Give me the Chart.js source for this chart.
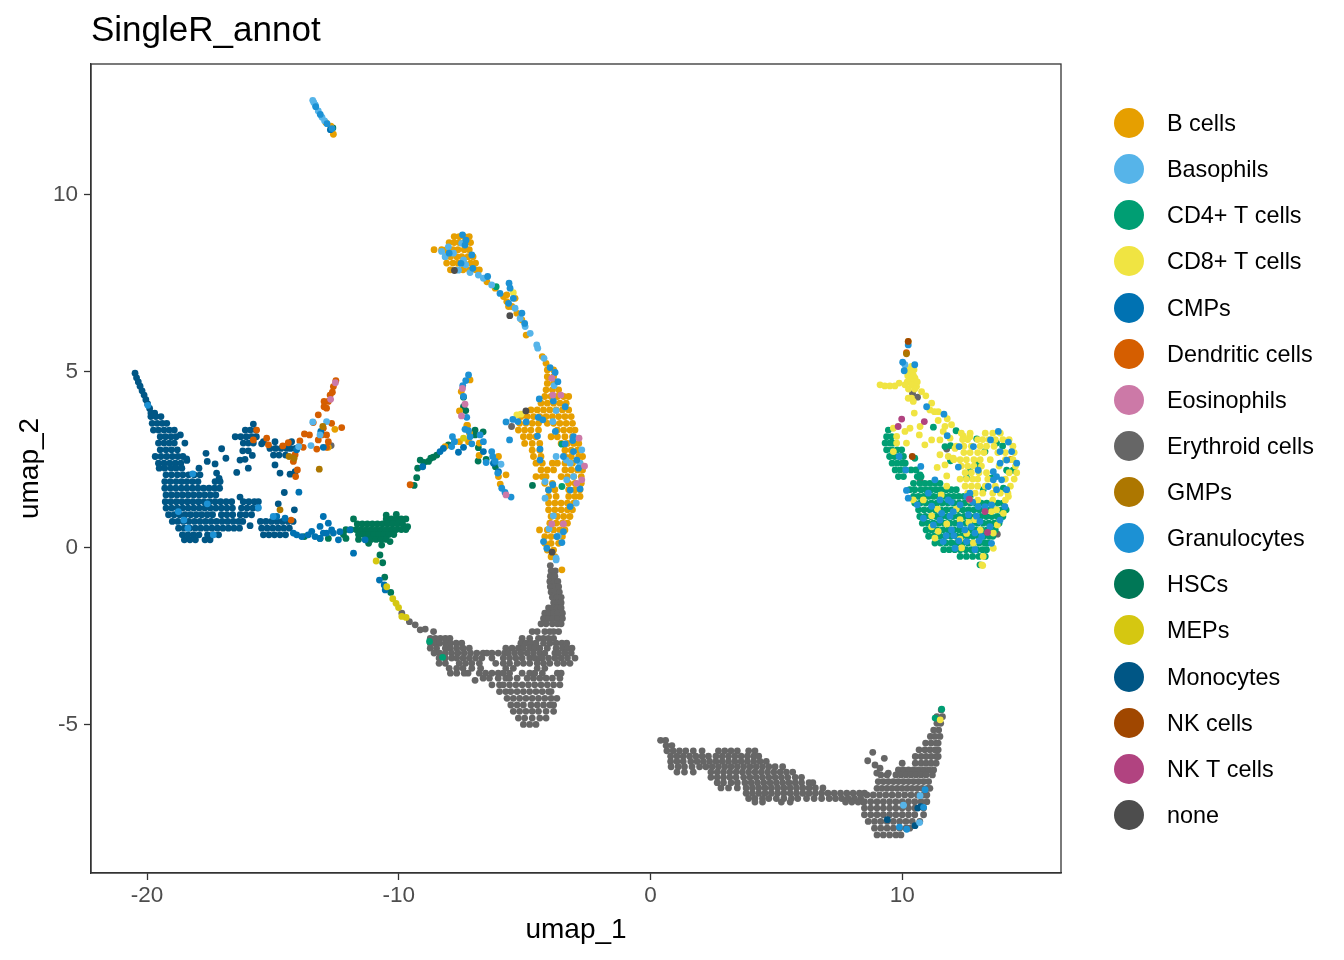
<!DOCTYPE html>
<html>
<head>
<meta charset="utf-8">
<title>SingleR_annot</title>
<script src="https://cdn.jsdelivr.net/npm/chart.js@4"></script>
<style>
	html, body { margin: 0; background: #fff; }
	#wrap { position: relative; width: 1344px; height: 960px; overflow: hidden; }
	canvas { display: block; }
	#legend { position: absolute; left: 0; top: 0; font: 23.4px "Liberation Sans", sans-serif; font-kerning: none; color: #000; }
	#legend div { position: absolute; left: 1167px; white-space: nowrap; line-height: 30px; height: 30px; }
	#legend span { position: absolute; left: -53px; top: 0; width: 30px; height: 30px; border-radius: 50%; }
</style>
</head>
<body>
<div id="wrap">
	<canvas id="umap" width="1344" height="960"></canvas>
	<div id="legend"></div>
</div>
<script>

const titleText = 'SingleR_annot';
const xTitle = 'umap_1';
const yTitle = 'umap_2';
const xTicks = [ -20, -10, 0, 10 ];
const yTicks = [ -5, 0, 5, 10 ];

const categories = [ 'B cells', 'Basophils', 'CD4+ T cells', 'CD8+ T cells', 'CMPs', 'Dendritic cells', 'Eosinophils', 'Erythroid cells', 'GMPs', 'Granulocytes', 'HSCs', 'MEPs', 'Monocytes', 'NK cells', 'NK T cells', 'none' ];
const colors = [ '#E69F00', '#56B4E9', '#009E73', '#F0E442', '#0072B2', '#D55E00', '#CC79A7', '#666666', '#AD7700', '#1C91D4', '#007756', '#D5C711', '#005685', '#A04700', '#B14380', '#4D4D4D' ];
// lower is painted later
const layers = [ 13, 8, 12, 11, 9, 10, 6, 16, 3, 7, 14, 5, 15, 2, 1, 4 ];

// every row below is [ umap_2, umap_1, umap_1, ... ]
const bCells = [
	[8.82,-7.8,-7.6,-7.4,-7.2],[8.65,-8,-7.8,-7.6,-7.4,-7.15],[8.45,-8.6,-8.3,-8.1,-7.85,-7.65,-7.4,-7.2],
	[8.25,-8.15,-7.95,-7.7,-7.5,-7.25,-7.05],[8.07,-8.1,-7.85,-7.65,-7.4,-7.15,-6.95],[7.88,-7.95,-7.7,-7.45,-7.2,-6.95,-6.8],
	[7.54,-6.5],[7.36,-6.17],[7.17,-5.71],[7.12,-5.84],[7.07,-5.38],[6.98,-5.71],[6.84,-5.51,-5.64],[6.65,-5.31],[6.46,-5.11],[6.03,-4.94],
	[5.42,-4.3],[5.23,-4.15],[5.04,-4.1,-3.85],[4.85,-4.1,-3.85],[4.66,-4.1,-3.85],[4.48,-4.15,-3.9,-3.65],[4.29,-4.2,-3.95,-3.7,-3.45,-3.25],
	[4.1,-4.35,-4.1,-3.85,-3.6,-3.35],[3.91,-4.75,-4.5,-4.25,-4,-3.75,-3.5,-3.25],[3.72,-5.15,-4.9,-4.65,-4.4,-4.15,-3.9,-3.65,-3.4,-3.15],
	[3.53,-5.2,-4.95,-4.7,-4.45,-4.1,-3.85,-3.6,-3.35,-3.1],[3.34,-5.25,-5,-4.75,-4.45,-3.7,-3.45,-3.2,-3],[3.15,-5.05,-4.8,-4.55,-3.95,-3.7,-3.4,-3.1],
	[2.96,-5,-4.7,-4.4,-3.55,-3.3,-3.05,-2.85],[2.77,-4.7,-4.4,-3.4,-3.15,-2.9],[2.59,-4.65,-4.35,-3.4,-3.15,-2.85,-2.7],[2.4,-4.55,-4.3,-3.9,-3.7,-3.4,-3.1,-2.8],
	[2.21,-4.35,-4.1,-3.85,-3.4,-3.15,-2.9,-2.7],[2.02,-4.55,-4.3,-4.15,-3.55,-3.3,-3.05,-2.75],[1.83,-4.2,-3.9,-3.25,-3,-2.75],[1.65,-4.05,-3.8,-3.25,-3,-2.8],
	[1.46,-4.05,-3.75,-3.25,-3,-2.8],[1.27,-4.05,-3.8,-3.55,-3.3,-3.05],[1.08,-4.05,-3.8,-3.55,-3.3,-3.1],[0.89,-3.95,-3.7,-3.45,-3.2],[0.7,-4,-3.75,-3.5,-3.3],
	[0.51,-4.41,-4.1,-3.85,-3.6,-3.4],[0.32,-4.2,-3.95,-3.7,-3.5],[0.13,-4.2,-3.95,-3.65],[-0.06,-4.1,-3.85],[-0.25,-3.95,-3.8],[-0.62,-3.52],
	[4.76,-7.17],[4.43,-7.52],[3.88,-7.59],[3.47,-7.3,-7.27],[3.25,-7.19],[3.01,-7.59,-7.23],[2.97,-6.8],[2.87,-8.16],[2.62,-6.81],[2.59,-6.04],[2.07,-5.74],[2.02,-6.04],[1.81,-5.97],
	[3.36,-12.54],[2.85,-12.8],[11.72,-12.6],[11.95,-12.7],[12.05,-12.9],[2.51,14.31]
];
const basophils = [
	[8.4,-8.3],[8.53,-8.03],[8.35,-7.83],[8.63,-7.5],[8.16,-7.43],[8.02,-7.34],[7.87,-7.63],[8.25,-8.16],[7.8,-7.17],
	[7.73,-6.84],[7.64,-6.64],[7.45,-6.31],[6.79,-5.38],[6.5,-5.18],[6.27,-4.98],[6.08,-4.78],[5.75,-4.52],[5.66,-4.48],[5.37,-4.23],
	[3.89,-3.75],[3.58,-3.88],[4.6,-3.83],[2.49,-3.35],[2.4,-3.19,-2.8],[1.93,-3.33],[2.02,-3.06],[2.78,-2.73],[2.59,-3.75],[1.88,-4.19],[1.41,-4.19],[1.27,-2.95],[0.91,-3.86],[0.54,-4.03],[0.34,-3.66],[-0.29,-3.75],[-0.34,-3.75],
	[2.37,-5.94],[3.01,-7.79],[3.57,-13.42],[3.58,-12.87],[3.2,-13.13],[2.9,-13.49],[2.87,-13.98],
	[12.68,-13.42],[12.62,-13.38],[12.55,-13.32],[12.38,-13.2],[12.2,-13.05],[12.1,-12.95],[5.19,10.11],
	[-7.02,10.71],[-7.29,10.05],[-7.78,10.69]
];
const cd4T = [
	[3.34,9.45],[3.15,9.38,9.58],[2.97,9.32,9.5,9.65],[2.78,9.38,9.58,9.8,9.98],[2.59,9.5,9.7,9.9,10.05],[2.4,9.6,9.8,10,10.12],[2.21,9.72,9.92,10.12,10.35,10.55],[2.02,9.85,10.05,10.6,10.75],
	[1.83,10.45,10.7,10.9,11.1,11.3,11.5],[1.65,10.3,10.5,10.75,10.95,11.15,11.35,11.55,11.75,11.95,12.15],[1.46,10.45,10.65,10.85,11.05,11.25,11.45,11.65,11.85,12.05,12.25,12.45,12.7],
	[1.27,10.5,10.72,10.94,11.16,11.38,11.6,11.82,12.04,12.26,12.48,12.7,12.92,13.14,13.36,13.58,13.8,14],
	[1.08,10.65,10.87,11.09,11.31,11.53,11.75,11.97,12.19,12.41,12.63,12.85,13.07,13.29,13.51,13.73,13.95,14.13],
	[0.89,10.7,10.92,11.14,11.36,11.58,11.8,12.02,12.24,12.46,12.68,12.9,13.12,13.34,13.56,13.78,14],
	[0.7,10.8,11.02,11.24,11.46,11.68,11.9,12.12,12.34,12.56,12.78,13,13.22,13.44,13.66,13.85],
	[0.51,10.95,11.17,11.39,11.61,11.83,12.05,12.27,12.49,12.71,12.93,13.15,13.37,13.59,13.7],
	[0.33,11.05,11.27,11.49,11.71,11.93,12.15,12.37,12.59,12.81,13.03,13.25,13.47,13.6],
	[0.14,11.3,11.52,11.74,11.96,12.18,12.4,12.62,12.84,13.06,13.28,13.4],
	[-0.05,11.65,11.87,12.09,12.31,12.53,12.75,12.97,13.19,13.35],[-0.24,12.3,12.55,12.8,13.05,13.3],[-0.48,13.09],
	[3.09,12.96],[2.73,13.29],[2.97,13.75],[2.89,13.99],[2.38,13.02],[2.47,11.92],[2.2,14.15,14.41],[2.16,12.69],[1.98,13.55,12.56],[1.65,13.22],[1.69,14.02],[2.9,11.92],[2.87,11.7],[3.42,11.24],[3.32,12.14],[2.07,10.71],[2.54,10.5],
	[7.4,-6.13],[2.94,-3.52],[1.74,-3.52],[-2.65,-8.78],[-3.1,-8.26],[-4.57,11.57],[-4.82,11.31]
];
const cd8T = [
	[5.85,10.24],[5.14,10.37],[5.05,10.27,10.47],[4.95,10.37],[4.88,10.22,10.45],[4.76,10.31],[4.81,10.51],[4.7,10.2,10.45,10.6],[4.62,10.37,9.12,10.11],[4.59,9.31,9.51,9.71],[4.67,9.88],[4.57,10.57],[4.5,10.25,10.5],[4.43,10.77],[4.31,10.94],[4.24,10.37,10.24],[4.15,10.44],[4.1,11.17],[3.91,11.1],[3.86,11.43,11.28],
	[3.82,10.48],[3.61,11.43],[3.66,11.79],[3.39,10.31,9.65],[3.3,10.11,11.63],[3.44,10.71,11.7],[3.2,10.68],[3.49,11.96],[3.06,11.17,11.5],[2.92,10.9],[3.11,11.9],[2.97,10.17,9.78],[3.16,9.78],[2.73,9.65],[2.82,12.1],[2.64,11.5],[2.59,11.83],[2.54,12.03],[2.35,11.7],[2.28,11.39],[2.04,11.77],[3.17,12.43],[3.15,12.69],
	[3.25,12.35,12.7,13.3,13.6,13.9],[3.07,12.4,12.6,13,13.2,13.45,13.7,14,14.25],[2.88,12.15,12.45,12.75,13.1,13.35,13.65,14.4],[2.7,12.45,12.7,13,13.25,13.8,14.1,14.45],[2.5,12.05,12.3,12.55,12.85,13.1,13.5,14.1,14.4],
	[2.32,12.35,12.6,12.85,13.15,13.85,14.5],[2.13,12.5,12.75,13.05,13.35,14.25,14.55],[1.95,12.3,12.55,12.8,13,13.4,14.1,14.45],[1.75,11.77,12.5,12.75,13,13.3,13.7,14.3],[1.55,12.6,12.9,13.2,13.6,13.9,14.2],[1.35,12.7,13,13.6,14.1],
	[0.91,11.17],[0.68,11.77],[0.25,12.3],[0,12.36],[-0.01,13.62],[-0.24,13.22],[-0.48,13.16],[0.65,13.78],[0.98,14.02],[1.46,14.22],[0.42,13.62],[0.6,11.17],[0.47,11.43],[0.8,12.3,12.89],[1.36,10.84,10.44],[1.08,13.75],[1.03,13.55],[0.41,12.56],[0.28,11.3],[0.14,12.83],[-0.5,13.2],
	[1.1,11.4,12.15],[0.72,12.65],[1.5,11.55],[0.5,13.1],
	[7.23,-5.45],[3.77,-5.31],[3.79,-5.15],[-4.87,11.51]
];
const cmps = [
	[0.42,-14.19,-13,-12.87,-12.6],[0.32,-13.86,-13.33],[0.37,-14.06,-13.6],[0.61,-13.13],[0.89,-13,-14.85],[0.7,-12.8],[0.51,-12.67,-11.94],[0.23,-12.4,-11.34],[-0.15,-11.8],[0.47,-13.46],[0.84,-14.52],[0.27,-13.13],[0.46,-12.34],[2.85,-13],[1.58,-13.97],[2.78,-14.06],[3.3,-13.1],
	[2.71,-7.63],[2.73,-8.36,-6.64],[2.85,-7.43],[2.3,-9.05],[2.82,-8.23],[2.16,-6.04],[2.4,-6.24],
	[-0.91,-10.77],[-1.05,-10.58],[-1.19,-10.54],[11.85,-12.72]
];
const dendritic = [
	[4.74,-12.5],[4.57,-12.6],[4.41,-12.64],[4.33,-12.73],[4.15,-12.8,-12.97],[4,-12.97],[3.96,-12.87],[3.77,-13.2],[3.55,-13.4],[3.39,-13],[3.53,-12.67],[3.41,-12.27],[3.23,-13.75],[3.2,-13.55,-12.87,-13.06],[3.06,-13.2,-15.78],[3.01,-12.8],[3.03,-13.93],[2.85,-13.8,-12.87],[2.8,-13.26],[2.64,-14.12],[2.45,-14.19],[2.21,-14.03],[2.02,-14.1],
	[3.11,-15.25],[2.92,-15.18],[3.34,-15.65],[2.89,-14.61],[2.98,-14.39],[1.79,-9.55],[0.79,-14.28],[5.53,10.17]
];
const eosinophils = [
	[4.68,-12.52],[4.21,-12.71],[4.81,-3.92],[4.33,-3.56,-3.88],[3.11,-2.84],[2.32,-2.62],[1.83,-2.93],[0.68,-3.92,-3.46],[1.93,-2.73],[4.07,-7.37],[3.74,-7.51],[4.52,-7.47],[1.5,-5.74]
];
const erythroid = [
	[-0.5,-3.98],[-0.65,-3.95,-3.78],[-0.8,-3.98,-3.8],[-0.95,-4,-3.82,-3.68],[-1.1,-3.98,-3.8,-3.65],[-1.25,-3.95,-3.78,-3.62],[-1.4,-3.9,-3.72,-3.55],[-1.55,-3.85,-3.68,-3.55],[-1.7,-4.05,-3.88,-3.7,-3.55],[-1.85,-9.88,-4.2,-4.02,-3.85,-3.68,-3.5],[-2,-4.25,-4.05,-3.88,-3.7,-3.5],[-2.15,-4.35,-4.15,-3.9,-3.7,-3.55],
	[-2.09,-9.58],[-2.18,-9.35],[-2.32,-9.15],[-2.3,-8.95],
	[-2.37,-8.62,-4.7,-4.5,-4.2,-4,-3.85,-3.65],[-2.56,-8.75,-8.55,-8.35,-8.15,-7.97,-5.1,-4.8,-4.45,-4.25,-4.05,-3.85],[-2.7,-8.75,-8.55,-8.38,-8.15,-7.95,-7.72,-7.5,-5.15,-4.95,-4.75,-4.55,-4.25,-4,-3.75,-3.52,-3.33],
	[-2.84,-8.75,-8.5,-8.15,-7.95,-7.7,-7.45,-7.2,-5.75,-5.5,-5.25,-5.05,-4.8,-4.6,-4.4,-4.1,-3.75,-3.5,-3.3,-3.12],
	[-2.98,-8.6,-8.38,-8.15,-7.9,-7.65,-7.4,-7.15,-6.9,-6.65,-6.5,-6.3,-6.05,-5.8,-5.65,-5.4,-5.15,-4.9,-4.65,-4.4,-4.2,-3.8,-3.65,-3.4,-3.15],
	[-3.12,-8.4,-8.15,-7.9,-7.7,-7.45,-7.2,-6.95,-6.7,-6.3,-5.85,-5.6,-5.35,-5.1,-4.8,-4.6,-4.4,-4.3,-4.05,-3.8,-3.55,-3.3,-3],
	[-3.27,-8.4,-8.15,-7.6,-7.35,-7.1,-6.8,-6.15,-5.85,-5.6,-5.3,-5.05,-4.8,-4.5,-4.25,-4,-3.7,-3.45,-3.2],
	[-3.41,-8,-7.7,-7.45,-7.1,-6.75,-5.75,-5.45,-4.5,-4.2],[-3.55,-7.95,-7.7,-7.4,-7.25,-6.8,-6.55,-6.3,-6.05,-5.85,-5.6,-5.1,-4.8,-4.6,-4.3,-3.7,-3.55],
	[-3.69,-6.65,-6.4,-6.05,-5.75,-5.6,-5.3,-4.9,-4.65,-4.4,-4.15,-3.9,-3.6],[-3.75,-6.97],[-3.88,-6.3,-6,-5.85,-5.6,-5.35,-5.1,-4.85,-4.6,-4.35,-4.1,-3.85,-3.6],
	[-4.07,-6,-5.75,-5.55,-5.3,-5.05,-4.8,-4.55,-4.3,-4.05,-3.95],[-4.26,-5.7,-5.45,-5.2,-4.95,-4.7,-4.45,-4.2,-3.95,-3.72],[-4.45,-5.55,-5.3,-5.05,-4.75,-4.5,-4.25,-4,-3.85],[-4.63,-5.45,-5.2,-4.95,-4.7,-4.45,-4.15,-3.85],[-4.82,-5.25,-5,-4.7,-4.4,-4.15],[-5,-5.05,-4.8,-4.55],
	[-5.45,0.4,0.6],[-5.6,0.62,0.85],[-5.75,0.65,0.9,1.15,1.4,1.7,2.05,2.7,2.95,3.2,3.45,3.9,4.15],[-5.9,0.8,1.05,1.3,1.55,1.8,2.05,2.3,2.6,2.85,3.1,3.35,3.6,3.85,4.1,4.3],
	[-6.05,0.8,1.05,1.3,1.6,1.85,2.1,2.35,2.6,2.85,3.1,3.35,3.6,3.85,4.1,4.35,4.6],[-6.2,0.82,1.1,1.35,1.65,1.95,2.2,2.45,2.7,2.95,3.2,3.45,3.7,3.95,4.2,4.45,4.7,4.95,5.25],
	[-6.35,1.05,1.35,1.7,2.4,2.65,2.9,3.15,3.4,3.65,3.9,4.15,4.4,4.65,4.9,5.15,5.4,5.65],[-6.5,2.4,2.65,2.9,3.15,3.4,3.7,3.95,4.2,4.45,4.7,4.95,5.2,5.45,5.75,6],
	[-6.65,2.65,2.9,3.2,3.45,3.75,4,4.25,4.5,4.75,5,5.25,5.5,5.75,6,6.3,6.45],[-6.8,2.8,3.1,3.45,3.8,4.05,4.3,4.55,4.8,5.05,5.3,5.55,5.8,6.05,6.3,6.55,6.85],
	[-6.95,3.8,4.05,4.3,4.55,4.8,5.05,5.3,5.55,5.8,6.05,6.3,6.55,6.8,7.05,7.3,7.55,7.8,8.05,8.3,8.5],[-7.1,3.9,4.15,4.45,4.7,5,5.3,5.6,5.85,6.2,6.5,6.8,7.1,7.35,7.6,7.85,8.1,8.35],[-7.2,4.15,4.45,5.2,5.55,7.75,8,8.25,8.45],
	[-4.59,11.55],[-4.78,11.38,11.6],[-4.97,11.38,11.53],[-5.16,11.25,11.45],[-5.34,11.12,11.3,11.5],[-5.53,10.93,11.15,11.35,11.43],[-5.72,10.67,10.9,11.1,11.3,11.43],[-5.91,10.52,10.75,10.95,11.15,11.35,11.43],[-6.1,10,10.52,10.75,10.95,11.15,11.35],
	[-6.29,9.85,10.05,10.25,10.45,10.65,10.85,11.05,11.25],[-6.43,9.15,9.4,9.75,9.95,10.15,10.35,10.55,10.75,10.95,11.2],[-6.62,9.05,9.25,9.45,9.65,9.85,10.05,10.25,10.45,10.65,10.85,11.05],[-6.81,9,9.2,9.4,9.6,9.8,10,10.2,10.4,10.6,10.8,11,11.1],
	[-7,8.6,8.85,9.1,9.35,9.6,9.85,10.1,10.35,10.6,10.85,10.98],[-7.19,8.5,8.75,9,9.25,9.5,9.75,10,10.25,10.5,10.75,10.98],[-7.37,8.5,8.75,9,9.25,9.5,9.75,10,10.25,10.5,10.85],[-7.56,8.5,8.75,9,9.25,9.5,9.75,10,10.25,10.5,10.85],
	[-7.75,8.65,8.9,9.15,9.4,9.65,9.9,10.15,10.4,10.7],[-7.94,8.9,9.15,9.4,9.65,9.9,10.15,10.3],[-8.13,9,9.25,9.5,9.75,9.95],
	[-5.79,8.83],[-5.96,9.29],[-6.03,8.63],[-6.15,8.92],[-6.24,9.12],[-6.38,8.99,9.45],
	[3.44,-5.52],[2.9,-12.69],[4.38,10.41],[4.27,10.61],[2.8,11.77],[1.91,10.71],[0.39,13.78]
];
const gmps = [
	[2.59,-14.36],[2.54,-14.16],[2.23,-13.16],[1.08,-14.72],[3.44,-13.02],[5.5,10.17]
];
const granulocytes = [
	[8.87,-7.47],[8.72,-7.33],[8.35,-8],[8.58,-7.37],[8.3,-7.1],[7.92,-7.06],[8.06,-7.53],[7.69,-6.47],[7.21,-5.98],[7.5,-5.62],[7.36,-5.58],[7.07,-5.45],[6.36,-5],[6.93,-5.64],[6.65,-5.11],
	[4.22,-4.42],[4.16,-3.86],[4.71,-3.68],[5.11,-3.99],[4.97,-3.79],[4,-3.39],[3.64,-5.47],[3.57,-5.74,-4.94],[3.58,-5.27],[3.7,-4.46],[3.63,-4.28],[3.06,-5.6],[3.17,-4.49],[3.3,-3.78],[3.15,-3.06],[3.04,-3.09],[2.95,-3.39],[2.59,-3.46],[2.73,-3.06],[2.49,-2.93,-4.39],[2.26,-2.86],[1.79,-3.88],[1.64,-4.05,-3.19],[1.67,-2.8],[1.17,-3.19],[0.46,-3.46],[0.15,-3.52],[-0.01,-4.12],[0.32,-3.72],[0.18,-4.25],[2.8,-4.39],
	[4.9,-7.23],[4.74,-7.34],[4.6,-7.46],[4.29,-7.43],[3.7,-7.3],[3.36,-7.37],[3.15,-7.17,-7.87],[3.2,-6.77],[3.01,-6.64,-7.79],[2.95,-7.1],[2.87,-7.9],[3.32,-7.23],
	[2.73,-6.31],[2.59,-6.27],[2.45,-6.17],[2.42,-6.53],[2.12,-6.07],[1.69,-5.91],[1.57,-5.78],[1.44,-5.54],
	[4.04,-19.97],[2.1,-18.19],[0.56,-18.38],[1.03,-18.76],[1.25,-17.61],[0.37,-17.37],[0.89,-14.99],[1.14,-15.58],[0.79,-18.54],
	[12.5,-13.3],[12.28,-13.12],[12.02,-12.85],[11.88,-12.65],
	[5.75,10.24],[5.26,10.02],[5.02,10.08],[5.19,10.5],[4,10.97],[3.79,11.66],[3.18,11.79],[2.87,12.26,12.83],[3.3,13.82],[3.06,13.51],[2.73,13.89,14.35],[3,14.22],[2.4,14.55,13.89],[2.49,14.15],[2.16,13.62],[2.02,13.75],[1.93,13.95,13.62,11.3],[1.74,13.42],[1.65,13.75,14.15],[2.2,13.02],[2.29,12.23],[2.31,10.74],[2.21,10.14],[2.59,9.88],[1.63,10.17],[1.41,10.24],[1.22,10.6,12.3,13.55],[1.55,11.04,12.69],[1.46,12.56],[1.36,11.5,11.83],[1.03,12.03],[1.17,13.02,13.29,14.08],[0.79,13.89,11.5],[0.84,10.84],[0.65,11.24,12.3],[0.98,11.57],[0.51,11.96,12.49],[0.42,12.89],[0.6,13.49],[0.13,13.55],[0.18,11.63,12.56],[-0.01,12.1],[-0.05,12.89],[0.94,12.63],[1.18,11.17],[0.75,13.09],[0.32,13.16],
	[0.9,11.9,12.95],[0.35,11.75,12.05],[1.3,11.95,12.8],[0.6,12.75],[0.2,12.25,13.05],
	[-6.85,10.91],[-7.91,9.89],[-7.35,10.85],[-7.97,10.18]
];
const hscs = [
	[0.82,-10.5,-10.3,-10.1,-9.9,-9.72],[0.68,-11.65,-11.45,-11.25,-11.05,-10.85,-10.65,-10.45,-10.25,-10.05,-9.85],[0.6,-9.65],[0.52,-12.1,-11.9,-11.7,-11.5,-11.3,-11.1,-10.9,-10.7,-10.5,-10.3,-10.1,-9.9,-9.72],[0.38,-12.2,-11.6,-11.4,-11.2,-11,-10.8,-10.6,-10.4,-10.2],[0.24,-11.6,-11.3,-11.1,-10.9,-10.7,-10.5],
	[0.82,-11.8],[0.32,-13.75],[0.27,-13.13,-12.8,-12.1],[0.08,-10.68],[0.18,-10.35],[-0.2,-10.75],[0.13,-11.2],[0.95,-10.1],[0.93,-10.5],
	[-0.42,-10.64],[-0.83,-10.56],[-1.26,-10.32],[1.77,-4.69],
	[4.27,-7.43],[3.89,-7.34],[4,-7.43],[3.34,-6.97],[3.29,-6.65],[2.84,-6.84],[2.92,-8.03],[3.2,-6.97],[2.57,-8.63],[2.45,-8.82],[2.49,-9.15],[2.26,-9.25],[1.99,-9.29],[1.77,-9.39],[2.63,-8.49],[2.54,-8.73],[2.42,-9],[2.51,-6.53],[2.46,-6.85],[2.3,-6.16],
	[11.9,-12.62]
];
const meps = [
	[-1.44,-10.24],[-1.57,-10.11],[-1.69,-10.01],[-1.97,-9.71],[-1.1,-10.48],[-1.94,-9.88],[-0.37,-10.9],[3.11,-7.43]
];
const monocytes = [
	[4.95,-20.48],[4.82,-20.42],[4.7,-20.35],[4.58,-20.28],[4.45,-20.2],[4.33,-20.12],[4.2,-20.05],[4.08,-19.98],[3.95,-19.9],[3.82,-19.85,-19.7],
	[3.72,-19.85,-19.65,-19.45],[3.53,-19.8,-19.6,-19.4,-19.22],[3.34,-19.75,-19.55,-19.33,-19.12,-18.92],[3.15,-19.48,-19.27,-19.05,-18.85],[3.2,-18.68],[2.97,-19.55,-19.33,-19.12,-18.92,-18.5],[2.78,-19.48,-19.25,-19.03,-18.8],
	[2.59,-19.68,-19.45,-19.22,-19,-18.78,-18.58],[2.4,-19.55,-19.33,-19.1,-18.88,-18.66],[2.48,-18.42],[2.26,-19.52,-19.3,-19.05,-18.85,-18.62],[2.07,-19.25,-19.03,-18.8,-18.58,-18.35,-18.13,-17.9],[1.88,-19.3,-19.08,-18.85,-18.63,-18.42,-18.2,-17.98,-17.3,-17.1],
	[1.69,-19.3,-19.08,-18.86,-18.64,-18.42,-18.2,-17.98,-17.76,-17.54,-17.32,-17.12],[1.5,-19.25,-19.03,-18.81,-18.59,-18.37,-18.15,-17.93,-17.71,-17.49,-17.27],
	[1.31,-19.28,-19.06,-18.84,-18.62,-18.4,-18.18,-17.96,-17.74,-17.52,-17.3,-17.08,-16.86,-16.64,-16.18,-15.96,-15.74,-15.58],
	[1.13,-19.25,-19.03,-18.81,-18.59,-18.37,-18.15,-17.93,-17.71,-17.49,-17.27,-17.05,-16.83,-16.61,-16.25,-16.03,-15.8,-15.6],
	[0.94,-19.15,-18.93,-18.71,-18.49,-18.27,-18.05,-17.83,-17.61,-17.4,-17.05,-16.83,-16.6,-16.3,-16.08,-15.85],
	[0.75,-19,-18.78,-18.56,-18.34,-18.12,-17.9,-17.68,-17.46,-17.24,-17.02,-16.8,-16.58,-16.36,-16.2,-15.5,-15.28,-15.06,-14.84,-14.62,-14.4,-14.2],
	[0.56,-18.75,-18.53,-18.31,-18.09,-17.87,-17.65,-17.43,-17.21,-16.99,-16.77,-16.55,-16.33,-15.45,-15.23,-15.01,-14.79,-14.57,-14.35],
	[0.37,-18.6,-18.38,-18.16,-17.94,-17.6,-17.38,-17.16,-15.38,-15.16,-14.94,-14.72,-14.5],[0.23,-18.52,-18.3,-18.08,-17.7,-17.5],
	[2.68,-17.66],[2.45,-17.61],[2.81,-17.04],[2.54,-16.87],[2.38,-17.3],[2.12,-17.24,-14.72],[2.26,-17.94,-15.98],[2.14,-16.44],[2.62,-15.82],[2.49,-16.31],[2.51,-16.11],[1.44,-16.31],[1.57,-14.55],[0.63,-15.91],[1.25,-14.79],[1.08,-14.15],[2.35,-14.92],[2.09,-14.32],[2.16,-14.12],[2.52,-18.43],[1.97,-17.14],
	[3.51,-15.78],[3.34,-16.1,-15.9,-15.68],[3.15,-16.5,-16.28,-16.06,-15.84,-15.66],[2.97,-16.18,-15.98,-15.78],[2.75,-16.2,-15.98],
	[3.01,-15.38,-14.92,-14.26],[2.95,-15.45],[2.82,-15.12,-14.9,-14.68,-14.46,-14.3,-14.1],[2.63,-14.98,-14.76,-14.5],
	[-7.33,10.74],[-7.37,10.62],[-7.7,9.41],[-7.87,10.51]
];
const nkCells = [
	[5.85,10.24],[2.59,10.4]
];
const nkT = [
	[3.65,9.98],[3.58,10.88],[3.44,9.84],[0.44,13.39],[1.03,13.29],[1.38,12.67]
];
const none = [
	[6.58,-5.59],[7.86,-7.79],[3.88,-4.95],[-0.12,-3.91]
];

const series = [ bCells, basophils, cd4T, cd8T, cmps, dendritic, eosinophils, erythroid, gmps, granulocytes, hscs, meps, monocytes, nkCells, nkT, none ];

const toPoints = rows => rows.flatMap( r => r.slice( 1 ).map( x => ( { x: x, y: r[0] } ) ) );

const axisFont = size => ( { family: '"Liberation Sans", sans-serif', size: size } );

const panelBorder = {
	id: 'panelBorder',
	afterDraw( chart ) {
		const a = chart.chartArea, c = chart.ctx;
		c.save();
		c.strokeStyle = '#333333';
		c.lineWidth = 1.3;
		c.strokeRect( a.left, a.top, a.right - a.left, a.bottom - a.top );
		c.restore();
	}
};

new Chart( 'umap', {
	type: 'scatter',
	data: {
		datasets: categories.map( ( name, i ) => ( {
			label: name,
			data: toPoints( series[i] ),
			order: layers[i],
			backgroundColor: colors[i],
			borderWidth: 0,
			pointRadius: 3.4,
			pointHoverRadius: 3.4
		} ) )
	},
	plugins: [ panelBorder ],
	options: {
		responsive: false,
		devicePixelRatio: 1,
		animation: false,
		events: [],
		layout: { padding: { left: 0, right: 283, top: 0, bottom: 0 } },
		plugins: {
			legend: { display: false },
			tooltip: { enabled: false },
			title: {
				display: true,
				text: titleText,
				align: 'start',
				fullSize: false,
				color: '#000',
				font: { ...axisFont( 35 ), weight: 'normal' },
				padding: { top: 10, bottom: 12 }
			}
		},
		scales: {
			x: {
				type: 'linear',
				min: -22.23,
				max: 16.31,
				afterFit: s => { s.height = 87; },
				afterBuildTicks: s => { s.ticks = xTicks.map( v => ( { value: v } ) ); },
				grid: { drawOnChartArea: false, tickLength: 7, tickColor: '#333333', tickWidth: 1.3 },
				border: { color: '#333333', width: 1.3 },
				ticks: { color: '#4D4D4D', font: axisFont( 22.5 ), padding: 2, maxRotation: 0, autoSkip: false, callback: v => String( v ) },
				title: { display: true, text: xTitle, color: '#000', font: axisFont( 28 ), padding: { top: 0, bottom: 13 } }
			},
			y: {
				type: 'linear',
				min: -9.21,
				max: 13.71,
				afterFit: s => { s.width = 91; },
				afterBuildTicks: s => { s.ticks = yTicks.map( v => ( { value: v } ) ); },
				grid: { drawOnChartArea: false, tickLength: 7, tickColor: '#333333', tickWidth: 1.3 },
				border: { color: '#333333', width: 1.3 },
				ticks: { color: '#4D4D4D', font: axisFont( 22.5 ), padding: 6, autoSkip: false, callback: v => String( v ) },
				title: { display: true, text: yTitle, color: '#000', font: axisFont( 28 ), padding: { top: 13, bottom: 0 } }
			}
		}
	}
} );

document.getElementById( 'legend' ).innerHTML = categories.map( ( name, i ) =>
	`<div style="top:${ 108 + i * 46.13 }px"><span style="background:${ colors[i] }"></span>${ name }</div>` ).join( '' );

</script>
</body>
</html>
